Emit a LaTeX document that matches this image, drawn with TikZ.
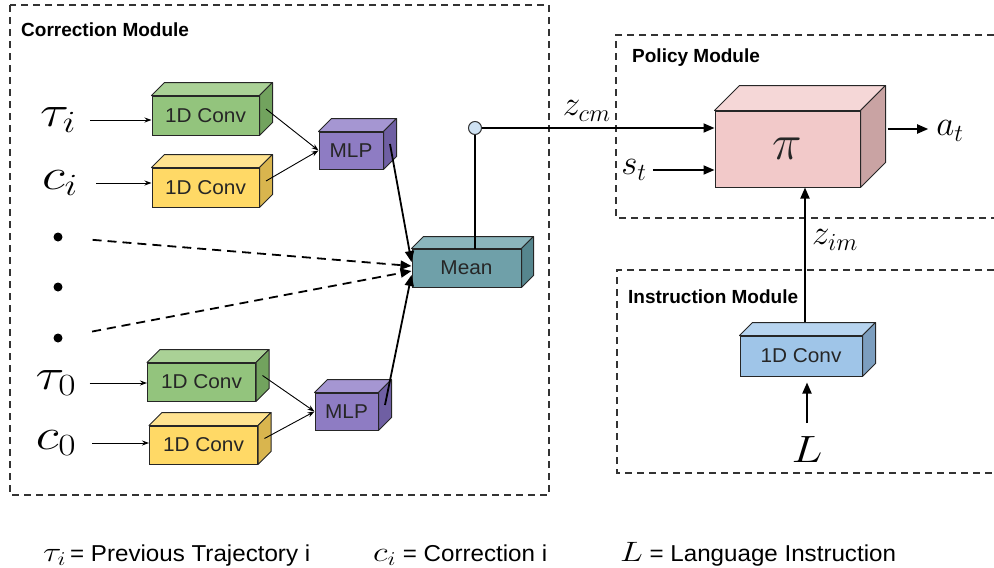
\RequirePackage{fix-cm}
\documentclass[tikz,border=0pt]{standalone}
\usepackage{fontspec}
\usepackage{graphicx}
\newfontfamily\arial{Liberation Sans}
\newfontfamily\arialwide[FakeStretch=1.04]{Liberation Sans}
\newfontfamily\legendfont[FakeStretch=1.05]{Liberation Sans}
\usetikzlibrary{arrows.meta,positioning}

\definecolor{greenF}{HTML}{93C47D}
\definecolor{greenT}{HTML}{AAD196}
\definecolor{greenS}{HTML}{72A35E}
\definecolor{yellowF}{HTML}{FFD966}
\definecolor{yellowT}{HTML}{FFE390}
\definecolor{yellowS}{HTML}{D9B54E}
\definecolor{purpleF}{HTML}{8E7CC3}
\definecolor{purpleT}{HTML}{A596D2}
\definecolor{purpleS}{HTML}{6F5FA3}
\definecolor{tealF}{HTML}{6FA0A9}
\definecolor{tealT}{HTML}{8BB5BC}
\definecolor{tealS}{HTML}{56868E}
\definecolor{pinkF}{HTML}{F2C9C9}
\definecolor{pinkT}{HTML}{F5D7D7}
\definecolor{pinkS}{HTML}{C9A3A3}
\definecolor{blueF}{HTML}{9FC5E8}
\definecolor{blueT}{HTML}{B7D4EF}
\definecolor{blueS}{HTML}{7C9EBF}
\definecolor{junc}{HTML}{CFE2F3}

\newcommand\wide[1]{\scalebox{1.22}[1]{#1}}
% top and side face of a block, depth #2
\newcommand\faces[4]{%
  \filldraw[fill=#3, draw=black!85, line width=1pt, line join=round]
    (#1.north west) -- ++(#2,-#2) -- ([shift={(#2,-#2)}]#1.north east) -- (#1.north east) -- cycle;
  \filldraw[fill=#4, draw=black!85, line width=1pt, line join=round]
    (#1.north east) -- ++(#2,-#2) -- ([shift={(#2,-#2)}]#1.south east) -- (#1.south east) -- cycle;
  \coordinate (#1 side) at ([shift={({#2/2},{-#2/2})}]#1.east);}

\tikzset{
  module/.style={draw=black!80, line width=1.4pt, dash pattern=on 7pt off 5pt},
  modlabel/.style={anchor=west, inner sep=0pt, font=\arial\bfseries\fontsize{19}{19}\selectfont},
  block/.style={draw=black!85, line width=1pt, inner sep=0pt, text=black!85,
    font=\arialwide\fontsize{20}{20}\selectfont},
  biglab/.style={inner sep=0pt, font=\fontsize{44}{44}\selectfont},
  midlab/.style={inner sep=0pt, font=\fontsize{35}{35}\selectfont},
  thinarrow/.style={-{Stealth[length=7pt,width=5pt]}, line width=0.9pt},
  thickarrow/.style={-{Triangle[length=11pt,width=9pt]}, line width=1.8pt},
  dot/.style={circle, fill=black, inner sep=0pt, minimum size=9pt},
  legend/.style={anchor=base west, inner sep=0pt, font=\legendfont\fontsize{23}{23}\selectfont},
}

\begin{document}
\begin{tikzpicture}[x=1pt, y=-1pt]
\useasboundingbox (0,0) rectangle (994,568);

\draw[module] (10,5) rectangle (549,495);
\draw[module] (994,35) -- (616,35) -- (616,218) -- (994,218);
\draw[module] (994,270) -- (617,270) -- (617,473) -- (994,473);
\node[modlabel] (cmlabel) at (21,30) {Correction Module};
\node[modlabel] (pmlabel) at (632,58) {Policy Module};
\node[modlabel] (imlabel) at (628,297) {Instruction Module};

\node[biglab] (taui) at (58,120) {\wide{$\tau_i$}};
\node[biglab] (ci) at (60,183) {\wide{$c_i$}};
\node[dot] (dotA) at (58,237) {};
\node[dot] (dotB) at (58,287) {};
\node[dot] (dotC) at (58,338) {};
\node[biglab] (tau0) at (56,383) {\wide{$\tau_0$}};
\node[biglab] (c0) at (56,443) {\wide{$c_0$}};

\node[block, fill=greenF, minimum width=107pt, minimum height=39pt] (convtaui) at (205.5,115.5) {1D Conv};
\faces{convtaui}{13}{greenT}{greenS}
\node[block, fill=yellowF, minimum width=107pt, minimum height=39pt] (convci) at (205.5,187.5) {1D Conv};
\faces{convci}{13}{yellowT}{yellowS}
\node[block, fill=greenF, minimum width=108pt, minimum height=38pt] (convtau0) at (201.5,382) {1D Conv};
\faces{convtau0}{13}{greenT}{greenS}
\node[block, fill=yellowF, minimum width=108pt, minimum height=38pt] (convc0) at (203.5,445) {1D Conv};
\faces{convc0}{13}{yellowT}{yellowS}
\node[block, fill=purpleF, minimum width=64pt, minimum height=37pt] (mlpi) at (351,150.5) {MLP};
\faces{mlpi}{13}{purpleT}{purpleS}
\node[block, fill=purpleF, minimum width=63pt, minimum height=37pt] (mlp0) at (346.5,411.5) {MLP};
\faces{mlp0}{13}{purpleT}{purpleS}
\node[block, fill=tealF, minimum width=109pt, minimum height=38pt] (mean) at (466.5,268) {Mean};
\faces{mean}{12}{tealT}{tealS}
\node[block, fill=pinkF, minimum width=145pt, minimum height=76pt, font=\fontsize{50}{50}\selectfont] (pi) at (787.5,149) {$\pi$};
\faces{pi}{25}{pinkT}{pinkS}
\node[block, fill=blueF, minimum width=122pt, minimum height=40pt] (convL) at (801,356) {1D Conv};
\faces{convL}{13}{blueT}{blueS}

\draw[thinarrow, shorten <=14pt] (taui) -- (taui -| convtaui.west);
\draw[thinarrow, shorten <=18pt] (ci) -- (ci -| convci.west);
\draw[thinarrow, shorten <=13pt] (tau0) -- (tau0 -| convtau0.west);
\draw[thinarrow, shorten <=16pt] (c0) -- (c0 -| convc0.west);
\draw[thinarrow] (convtaui side) -- (mlpi.west);
\draw[thinarrow] (convci side) -- (mlpi.west);
\draw[thinarrow] (convtau0 side) -- (mlp0.west);
\draw[thinarrow] (convc0 side) -- (mlp0.west);
\draw[thickarrow] (mlpi side) -- ([yshift=6pt]mean.west);
\draw[thickarrow] (mlp0 side) -- ([yshift=-7pt]mean.west);
\draw[thickarrow, dash pattern=on 9pt off 6pt, shorten <=30pt] (dotA) -- ([yshift=2pt]mean.west);
\draw[thickarrow, dash pattern=on 9pt off 6pt, shorten <=30pt] (dotC) -- ([yshift=-3pt]mean.west);

\node[circle, draw=black!80, fill=junc, line width=1pt, minimum size=13pt, inner sep=0pt] (cm) at (475,128) {};
\draw[line width=1.8pt] (cm) -- (cm |- mean.north);
\draw[thickarrow] (cm) -- (cm -| pi.west) node[midlab, pos=0.45, above=6pt] (zcm) {$z_{cm}$};
\node[midlab] (st) at (634,170) {$s_t$};
\draw[thickarrow, shorten <=6pt] (st) -- (st -| pi.west);
\node[midlab] (at) at (950,131) {$a_t$};
\draw[thickarrow, shorten >=8pt] ([xshift=27pt]pi.east |- 0,129) -- (at.west |- 0,129);

\draw[thickarrow] ([shift={(4,-14)}]convL.north) -- ([xshift=4pt]convL.north |- pi.south);
\node[midlab, anchor=west] (zim) at (812,240) {$z_{im}$};
\node[biglab, font=\fontsize{38}{38}\selectfont] (L) at (807,450) {\wide{$L$}};
\draw[thickarrow, shorten <=8pt, shorten >=6pt] (L.north |- 0,431) -- (L.north |- convL.south);

\node[legend] (legtau) at (43,561)
  {\fontsize{28}{28}\selectfont\wide{$\tau_i$}\legendfont\fontsize{23}{23}\selectfont\,= Previous Trajectory i};
\node[legend] (legc) at (373,561)
  {\fontsize{28}{28}\selectfont\wide{$c_i$}\legendfont\fontsize{23}{23}\selectfont\ = Correction i};
\node[legend] (legL) at (620,561)
  {\fontsize{28}{28}\selectfont\wide{$L$}\legendfont\fontsize{23}{23}\selectfont\ = Language Instruction};
\end{tikzpicture}
\end{document}
